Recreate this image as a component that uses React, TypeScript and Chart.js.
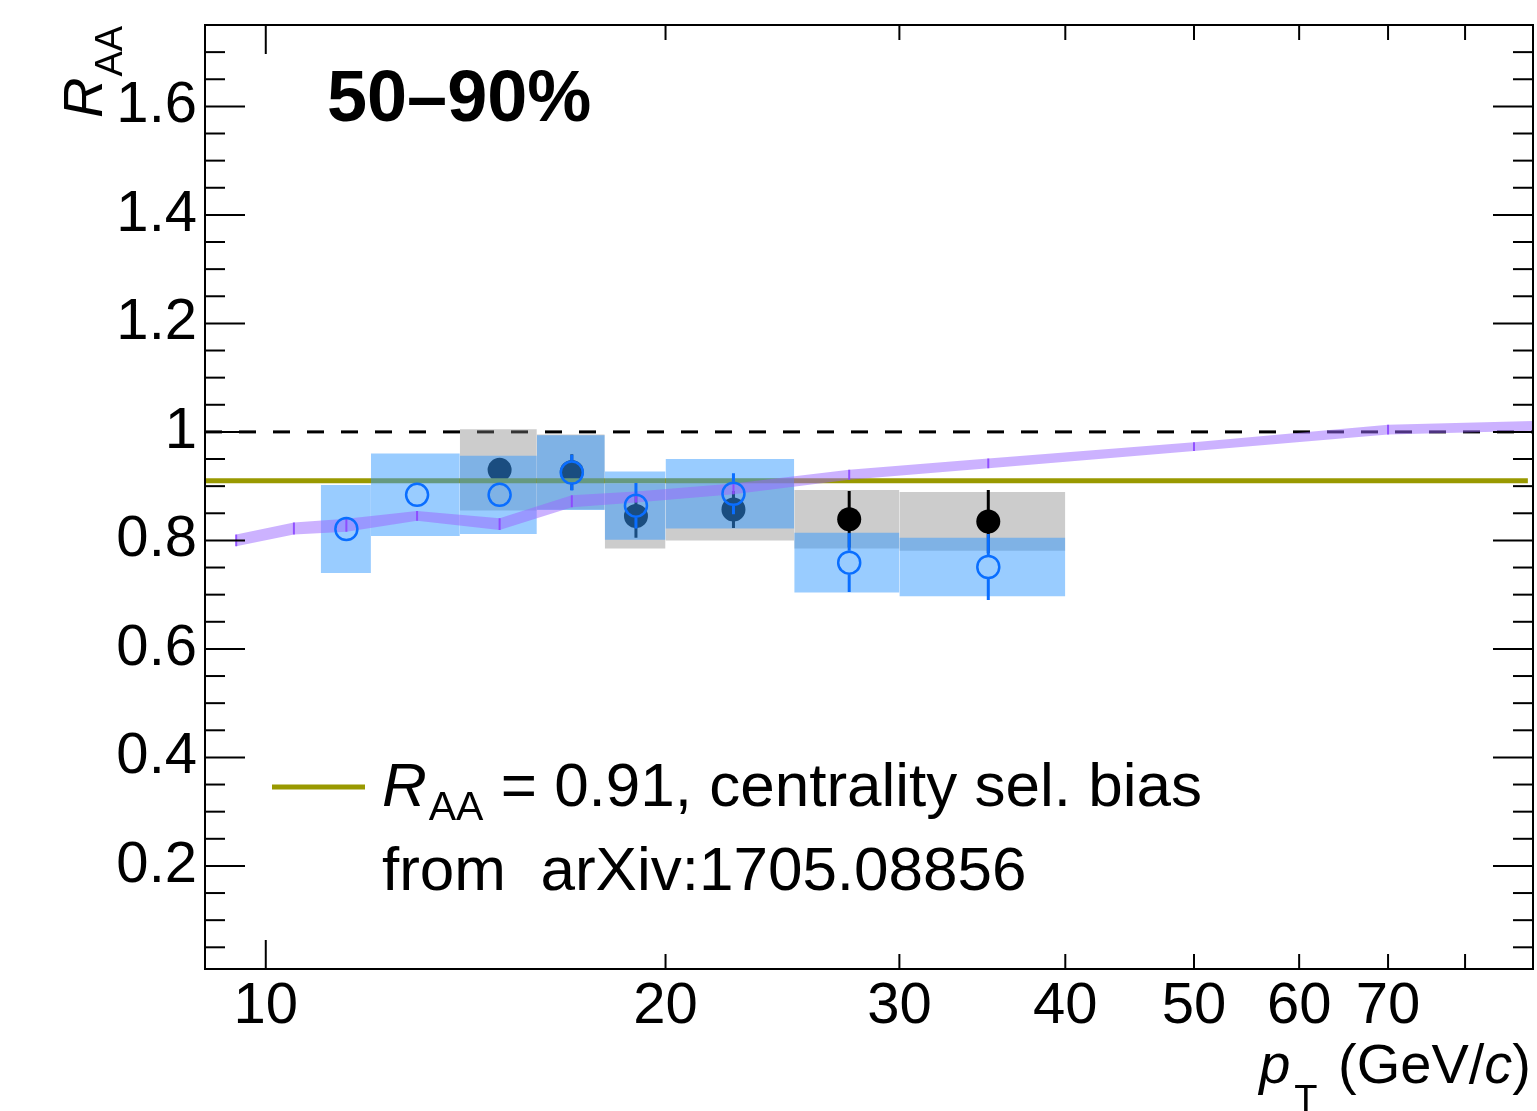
import React, { useEffect, useRef } from 'react';
import { Chart, registerables } from 'chart.js';

Chart.register(...registerables);

const FONT = '"Liberation Sans", Arial, Helvetica, sans-serif';

// ---------- data ----------
// blue open circles (with blue systematic boxes)
const blueEdges = [11, 12, 14, 16, 18, 20, 25, 30, 40];
const bluePt = [11.5, 13, 15, 17, 19, 22.5, 27.5, 35];
const blueVal = [0.821, 0.884, 0.884, 0.925, 0.864, 0.886, 0.759, 0.751];
const blueStat = [0.015, 0.015, 0.015, 0.033, 0.042, 0.038, 0.054, 0.061];
const blueSys = [0.081, 0.076, 0.072, 0.069, 0.063, 0.064, 0.055, 0.054];

// black filled circles (with grey systematic boxes)
const blackEdges = [14, 16, 18, 20, 25, 30, 40];
const blackPt = [15, 17, 19, 22.5, 27.5, 35];
const blackVal = [0.93, 0.926, 0.845, 0.857, 0.839, 0.835];
const blackStat = [0.015, 0.033, 0.04, 0.034, 0.052, 0.058];
const blackSys = [0.075, 0.069, 0.06, 0.057, 0.054, 0.054];

// model band (purple)
const modelPt = [9.5, 10.5, 11.5, 13, 15, 17, 19, 22.5, 27.5, 35, 50, 70, 90];
const modelVal = [0.8, 0.822, 0.828, 0.845, 0.83, 0.872, 0.88, 0.895, 0.921, 0.942, 0.973, 1.004, 1.011];
const modelErr = [0.011, 0.011, 0.012, 0.009, 0.011, 0.011, 0.01, 0.01, 0.009, 0.009, 0.008, 0.009, 0.009];

// reference lines
const unityLevel = 1;
const unityX = [9, 90];
const biasLevel = 0.91;
const biasX = [9, 89.2];

// axes
const xMin = 9;
const xMax = 90;
const yMin = 0.01;
const yMax = 1.75;
const xTickValues = [10, 20, 30, 40, 50, 60, 70, 80];
const xTickLabels = ['10', '20', '30', '40', '50', '60', '70', ''];
const yTickValues = [0.2, 0.4, 0.6, 0.8, 1.0, 1.2, 1.4, 1.6];
const yTickLabels = ['0.2', '0.4', '0.6', '0.8', '1', '1.2', '1.4', '1.6'];
const yMinorStep = 0.05;

// texts
const titleText = '50\u201390%';
const legendSymbol = 'R';
const legendSub = 'AA';
const legendRest = ' = 0.91, centrality sel. bias';
const legendLine2 = 'from  arXiv:1705.08856';
const yTitleMain = 'R';
const yTitleSub = 'AA';
const xTitleMain = 'p';
const xTitleSub = 'T';
const xTitleUnitA = '(GeV/';
const xTitleUnitC = 'c';
const xTitleUnitB = ')';

// colours
const GRAY_BOX = 'rgba(128,128,128,0.4)';
const BLUE_BOX = 'rgba(51,153,255,0.5)';
const PURPLE_BAND = 'rgba(153,102,255,0.5)';
const PURPLE_MARK = 'rgba(140,70,255,0.9)';
const BLUE_MARKER = 'rgb(10,110,255)';
const OLIVE = 'rgb(153,153,0)';
const NONE = 'rgba(0,0,0,0)';

const errPlugin = {
  id: 'errbars',
  afterDatasetDraw(chart: any, args: any) {
    const ds: any = chart.data.datasets[args.index];
    if (!ds.errs) return;
    const { ctx, chartArea: a } = chart;
    const xs = chart.scales.x;
    const ys = chart.scales.y;
    ctx.save();
    ctx.beginPath();
    ctx.rect(a.left, a.top, a.right - a.left, a.bottom - a.top);
    ctx.clip();
    ctx.strokeStyle = ds.errColor;
    ctx.lineWidth = ds.errWidth;
    ds.data.forEach((p: any, i: number) => {
      const px = xs.getPixelForValue(p.x);
      const py = ys.getPixelForValue(p.y);
      const top = ys.getPixelForValue(p.y + ds.errs[i]);
      const bot = ys.getPixelForValue(p.y - ds.errs[i]);
      const r = ds.markerR;
      ctx.beginPath();
      if (py - top > r) {
        ctx.moveTo(px, top);
        ctx.lineTo(px, py - r);
      }
      if (bot - py > r) {
        ctx.moveTo(px, py + r);
        ctx.lineTo(px, bot);
      }
      ctx.stroke();
    });
    ctx.restore();
  },
};

const framePlugin = {
  id: 'frame',
  afterDatasetsDraw(chart: any) {
    const { ctx, chartArea: a } = chart;
    const xs = chart.scales.x;
    const ys = chart.scales.y;
    ctx.save();
    ctx.strokeStyle = '#000';
    ctx.lineWidth = 2;
    const seg = (x0: number, y0: number, x1: number, y1: number) => {
      ctx.beginPath();
      ctx.moveTo(x0, y0);
      ctx.lineTo(x1, y1);
      ctx.stroke();
    };
    for (let k = 1; k * yMinorStep < yMax - 1e-6; k++) {
      const v = k * yMinorStep;
      if (v < yMin) continue;
      const major = yTickValues.some((t) => Math.abs(t - v) < 1e-6);
      const py = ys.getPixelForValue(v);
      const len = major ? 40 : 20;
      seg(a.left, py, a.left + len, py);
      seg(a.right, py, a.right - len, py);
    }
    xTickValues.forEach((v, i) => {
      const px = xs.getPixelForValue(v);
      const len = i === 0 ? 29 : 15;
      seg(px, a.bottom, px, a.bottom - len);
      seg(px, a.top, px, a.top + len);
    });
    ctx.strokeRect(a.left, a.top, a.right - a.left, a.bottom - a.top);
    ctx.restore();
  },
};

const textPlugin = {
  id: 'texts',
  afterDraw(chart: any) {
    const ctx = chart.ctx;
    ctx.save();
    ctx.fillStyle = '#000';
    ctx.textAlign = 'left';
    ctx.textBaseline = 'alphabetic';

    // title
    ctx.font = `bold 72px ${FONT}`;
    ctx.fillText(titleText, 327, 121);

    // legend
    ctx.strokeStyle = OLIVE;
    ctx.lineWidth = 5;
    ctx.beginPath();
    ctx.moveTo(272, 787);
    ctx.lineTo(365, 787);
    ctx.stroke();
    ctx.font = `italic 62px ${FONT}`;
    ctx.fillText(legendSymbol, 382, 806);
    let lx = 382 + ctx.measureText(legendSymbol).width + 2;
    ctx.font = `41px ${FONT}`;
    ctx.fillText(legendSub, lx, 820);
    lx += ctx.measureText(legendSub).width;
    ctx.font = `62px ${FONT}`;
    ctx.fillText(legendRest, lx, 806);
    ctx.fillText(legendLine2, 382, 890);

    // y title (rotated)
    ctx.save();
    ctx.translate(102, 118);
    ctx.rotate(-Math.PI / 2);
    ctx.font = `italic 56px ${FONT}`;
    ctx.fillText(yTitleMain, 0, 0);
    const wr = ctx.measureText(yTitleMain).width;
    ctx.font = `38px ${FONT}`;
    ctx.fillText(yTitleSub, wr + 1, 20);
    ctx.restore();

    // x title (right aligned)
    const base = 1083;
    ctx.font = `56px ${FONT}`;
    const wB = ctx.measureText(xTitleUnitB).width;
    const wA = ctx.measureText(xTitleUnitA).width;
    const wSp = ctx.measureText(' ').width;
    ctx.font = `italic 56px ${FONT}`;
    const wC = ctx.measureText(xTitleUnitC).width;
    const xB = 1531 - wB;
    const xC = xB - wC;
    const xA = xC - wA;
    ctx.font = `56px ${FONT}`;
    ctx.fillText(xTitleUnitB, xB, base);
    ctx.fillText(xTitleUnitA, xA, base);
    ctx.font = `italic 56px ${FONT}`;
    ctx.fillText(xTitleUnitC, xC, base);
    ctx.font = `38px ${FONT}`;
    const wT = ctx.measureText(xTitleSub).width;
    const xT = xA - wSp - wT - 5;
    ctx.fillText(xTitleSub, xT, 1112);
    ctx.font = `italic 56px ${FONT}`;
    const wP = ctx.measureText(xTitleMain).width;
    ctx.fillText(xTitleMain, xT - wP - 4, base);

    ctx.restore();
  },
};

const zeroPad = (s: any) => {
  s.paddingTop = 0;
  s.paddingBottom = 0;
  s.paddingLeft = 0;
  s.paddingRight = 0;
};

export default function App() {
  const ref = useRef<HTMLCanvasElement>(null);

  useEffect(() => {
    const canvas = ref.current;
    if (!canvas) return;

    const layers: any[] = [];
    // dashed unity line
    layers.push({
      data: unityX.map((x) => ({ x, y: unityLevel })),
      borderColor: '#000',
      borderWidth: 3,
      borderDash: [17, 17],
      pointRadius: 0,
      fill: false,
    });
    // grey boxes
    blackVal.forEach((v, i) => {
      layers.push({
        data: [
          { x: blackEdges[i], y: v + blackSys[i] },
          { x: blackEdges[i + 1], y: v + blackSys[i] },
        ],
        fill: { value: v - blackSys[i] },
        backgroundColor: GRAY_BOX,
        borderColor: NONE,
        borderWidth: 0,
        pointRadius: 0,
      });
    });
    // black points
    layers.push({
      data: blackPt.map((x, i) => ({ x, y: blackVal[i] })),
      showLine: false,
      pointRadius: 12,
      pointBackgroundColor: '#000',
      pointBorderColor: '#000',
      pointBorderWidth: 0,
      borderColor: NONE,
      fill: false,
      errs: blackStat,
      errColor: '#000',
      errWidth: 3,
      markerR: 11,
    });
    // olive line
    layers.push({
      data: biasX.map((x) => ({ x, y: biasLevel })),
      borderColor: OLIVE,
      borderWidth: 5,
      pointRadius: 0,
      fill: false,
    });
    // blue boxes
    blueVal.forEach((v, i) => {
      layers.push({
        data: [
          { x: blueEdges[i], y: v + blueSys[i] },
          { x: blueEdges[i + 1], y: v + blueSys[i] },
        ],
        fill: { value: v - blueSys[i] },
        backgroundColor: BLUE_BOX,
        borderColor: NONE,
        borderWidth: 0,
        pointRadius: 0,
      });
    });
    // model band
    layers.push({
      data: modelPt.map((x, i) => ({ x, y: modelVal[i] - modelErr[i] })),
      borderColor: NONE,
      borderWidth: 0,
      pointRadius: 0,
      fill: false,
    });
    layers.push({
      data: modelPt.map((x, i) => ({ x, y: modelVal[i] + modelErr[i] })),
      borderColor: NONE,
      borderWidth: 0,
      pointRadius: 0,
      fill: '-1',
      backgroundColor: PURPLE_BAND,
    });
    layers.push({
      data: modelPt.map((x, i) => ({ x, y: modelVal[i] })),
      showLine: false,
      pointRadius: 0,
      borderColor: NONE,
      fill: false,
      errs: modelErr,
      errColor: PURPLE_MARK,
      errWidth: 2,
      markerR: 0,
    });
    // blue points
    layers.push({
      data: bluePt.map((x, i) => ({ x, y: blueVal[i] })),
      showLine: false,
      pointRadius: 11,
      pointBackgroundColor: NONE,
      pointBorderColor: BLUE_MARKER,
      pointBorderWidth: 2.5,
      borderColor: NONE,
      fill: false,
      errs: blueStat,
      errColor: BLUE_MARKER,
      errWidth: 3,
      markerR: 12,
    });

    const n = layers.length;
    const datasets = layers.map((d, i) => ({ type: 'line', tension: 0, order: n - i, ...d }));

    const chart = new Chart(canvas, {
      type: 'line',
      data: { datasets } as any,
      options: {
        responsive: false,
        animation: false,
        devicePixelRatio: 1,
        events: [],
        layout: { autoPadding: false, padding: { top: 25, right: 4, left: 0, bottom: 0 } },
        plugins: {
          legend: { display: false },
          tooltip: { enabled: false },
          filler: { drawTime: 'beforeDatasetDraw', propagate: false },
        } as any,
        scales: {
          x: {
            type: 'logarithmic',
            min: xMin,
            max: xMax,
            grid: { display: false, drawTicks: false },
            border: { display: false },
            ticks: {
              autoSkip: false,
              maxRotation: 0,
              minRotation: 0,
              padding: 3,
              color: '#000',
              font: { family: FONT, size: 58 },
              callback: (_v: any, i: number) => xTickLabels[i] ?? '',
            },
            afterBuildTicks: (s: any) => {
              s.ticks = xTickValues.map((v) => ({ value: v }));
            },
            afterFit: (s: any) => {
              s.height = 142;
              zeroPad(s);
            },
          } as any,
          y: {
            type: 'linear',
            min: yMin,
            max: yMax,
            grid: { display: false, drawTicks: false },
            border: { display: false },
            ticks: {
              padding: 8,
              color: '#000',
              font: { family: FONT, size: 58 },
              callback: (_v: any, i: number) => yTickLabels[i] ?? '',
            },
            afterBuildTicks: (s: any) => {
              s.ticks = yTickValues.map((v) => ({ value: v }));
            },
            afterFit: (s: any) => {
              s.width = 205;
              zeroPad(s);
            },
          } as any,
        },
      },
      plugins: [errPlugin, framePlugin, textPlugin],
    } as any);

    return () => chart.destroy();
  }, []);

  return (
    <div style={{ position: 'absolute', left: 0, top: 0, width: 1537, height: 1111, background: '#fff' }}>
      <canvas ref={ref} width={1537} height={1111} style={{ display: 'block' }} />
    </div>
  );
}
